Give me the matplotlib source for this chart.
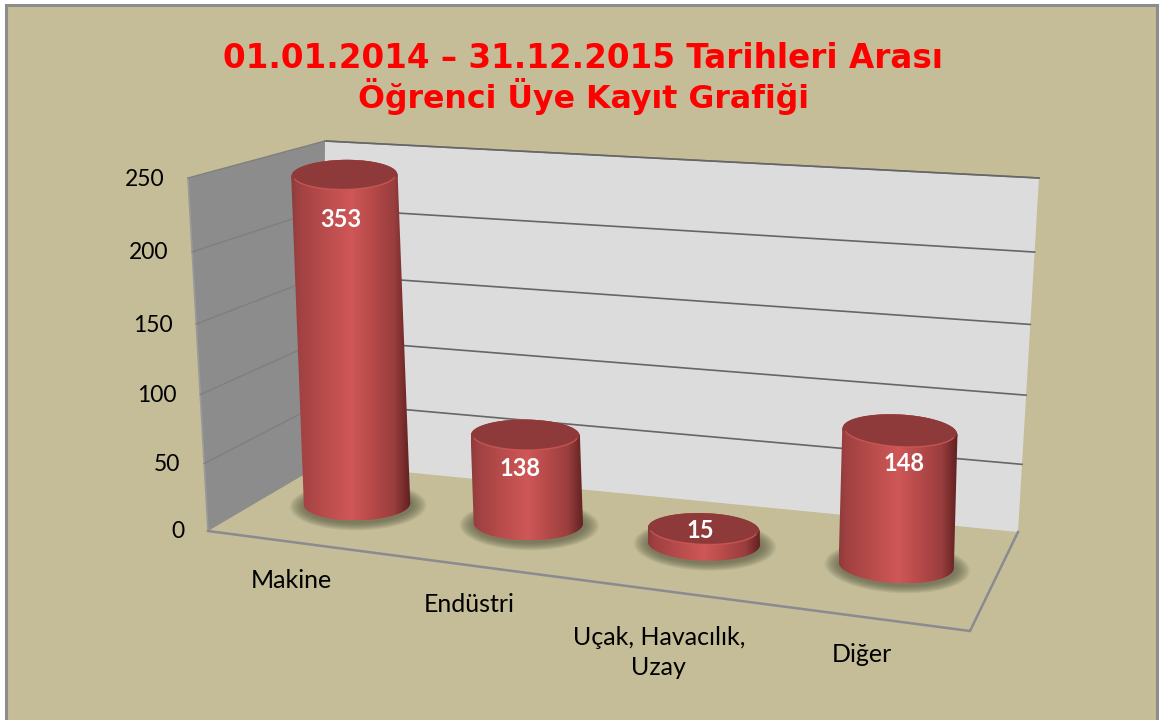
import numpy as np
import matplotlib
matplotlib.use("Agg")
import matplotlib.pyplot as plt
from matplotlib.colors import LinearSegmentedColormap
from matplotlib.patches import Polygon, Rectangle, Ellipse

# ---------- data ----------
title_lines = ["01.01.2014 – 31.12.2015 Tarihleri Arası", "Öğrenci Üye Kayıt Grafiği"]
categories = ["Makine", "Endüstri", "Uçak, Havacılık,\nUzay", "Diğer"]
data_labels = ["353", "138", "15", "148"]
# bar heights as they read against the printed axis (they differ from the printed labels)
bar_heights = [241, 65, 9.5, 94]
y_ticks = [0, 50, 100, 150, 200, 250]
y_max = 250

# ---------- view (screen pixels of the pseudo-3D box) ----------
W, H = 1159, 720
FLOOR = np.array([(322, 464), (1018, 532), (970, 631), (208, 531)], float)   # back-L, back-R, front-R, front-L
CEIL = np.array([(325, 141), (1039, 178), (993, 240), (188, 178)], float)
BAR_U = [0.119, 0.355, 0.597, 0.862]
BAR_V = 0.45
PERSP = 0.945
BG = "#C4BD97"


def bilinear(q, u, v):
    return (q[0] * (1 - u) + q[1] * u) * (1 - v) + (q[3] * (1 - u) + q[2] * u) * v


def project(u, v, h):
    """category position u, depth v, value h -> screen point"""
    s = h / y_max
    t = s * PERSP / (1 + (PERSP - 1) * s)
    return bilinear(FLOOR, u, v) * (1 - t) + bilinear(CEIL, u, v) * t


def ell(c, a, b, deg, t0=0, t1=2 * np.pi, n=80):
    t = np.linspace(t0, t1, n)
    x, y = a * np.cos(t), b * np.sin(t)
    r = np.deg2rad(deg)
    return np.c_[c[0] + x * np.cos(r) - y * np.sin(r), c[1] + x * np.sin(r) + y * np.cos(r)]


fig = plt.figure(figsize=(W / 100, H / 100), dpi=100, facecolor="white")
ax = fig.add_axes([0, 0, 1, 1])
ax.axis("off")

ax.add_patch(Rectangle((6, 4.5), 1151, 730, facecolor=BG, edgecolor="#8C8C8C", lw=2.2, zorder=0))

# walls
back = [project(0, 0, 0), project(1, 0, 0), project(1, 0, y_max), project(0, 0, y_max)]
side = [project(0, 1, 0), project(0, 0, 0), project(0, 0, y_max), project(0, 1, y_max)]
ax.add_patch(Polygon(back, facecolor="#DCDCDC", edgecolor="none", zorder=1))
ax.add_patch(Polygon(side, facecolor="#8C8C8C", edgecolor="none", zorder=1))
ax.plot(*np.array([project(0, 0, y_max), project(1, 0, y_max)]).T, color="#808080", lw=1.1, zorder=2)
ax.plot(*np.array([project(0, 1, y_max), project(0, 1, 0)]).T, color="#9A9A9A", lw=1.2, zorder=2)

# grid
for tick in y_ticks:
    if tick == 0:
        continue
    ax.plot(*np.array([project(0, 0, tick), project(1, 0, tick)]).T, color="#666666", lw=1.2, zorder=2)
    ax.plot(*np.array([project(0, 1, tick), project(0, 0, tick)]).T, color="#7F7F7F", lw=1.0, zorder=2)

# floor front edges
edge = np.array([project(0, 1, 0), project(1, 1, 0), project(1, 0, 0)])
ax.plot(edge[:, 0], edge[:, 1], color="#8A8A90", lw=1.8, zorder=2, solid_joinstyle="miter")

# y tick labels
for tick in y_ticks:
    p = project(0, 1, tick)
    ax.text(p[0] - 24, p[1] + 1, str(tick), ha="right", va="center", fontsize=16.5,
            family="Lato", color="black", zorder=6)

# bars
cmap = LinearSegmentedColormap.from_list("bar", [
    (0.00, "#8E3B3B"), (0.06, "#A04141"), (0.30, "#BC4D4D"), (0.50, "#CF5757"),
    (0.70, "#B34848"), (0.86, "#9A3E3E"), (0.96, "#702828"), (1.00, "#5F2020")])
grad = np.linspace(0, 1, 256).reshape(1, -1)
ASPECT = 0.31
tops = []
for u, value in zip(BAR_U, bar_heights):
    base = project(u, BAR_V, 0)
    top = project(u, BAR_V, value)
    # lean of the cylinders towards the left wall, none on the very flat one
    top[0] -= 2.5 * min(1, value / 40) + 7.5 * (value / y_max) * (1 - u)
    tops.append(top)
    a = 52.5 + 6 * u
    b = a * ASPECT
    tilt = -1.5 + 5.5 * u
    # shadow
    for k in range(10):
        g = 1 - k / 10
        ax.add_patch(Ellipse((base[0] + 1, base[1] + 2), 2 * (a + 15 * g), 2 * (b + 8 * g), angle=tilt,
                             facecolor="#55553F", edgecolor="none", alpha=0.09, zorder=3))
    # side
    lo = ell(base, a, b, tilt, 0, np.pi)
    hi = ell(top, a, b, tilt, np.pi, 2 * np.pi)
    outline = np.vstack([lo, hi])
    x0, x1 = outline[:, 0].min(), outline[:, 0].max()
    for pts, z in ((outline, 4), (ell(top, a, b, tilt), 4.1)):
        im = ax.imshow(grad, cmap=cmap, extent=(x0, x1, outline[:, 1].max(), outline[:, 1].min()),
                       aspect="auto", zorder=z, interpolation="bilinear")
        clip = Polygon(pts, transform=ax.transData, facecolor="none", edgecolor="none")
        ax.add_patch(clip)
        im.set_clip_path(clip)
    # top cap: dark disc that reaches the upper rim, with a light lower bevel
    cap = (top[0], top[1] - b * 0.10)
    ax.add_patch(Polygon(ell(cap, a * 0.99, b * 0.90, tilt), facecolor="#8F3A3A", edgecolor="none", zorder=4.3))
    arc = ell(cap, a * 0.97, b * 0.90, tilt, 0.25, np.pi - 0.25)
    ax.plot(arc[:, 0], arc[:, 1], color="#CF5B57", lw=1.0, alpha=0.8, zorder=4.4, solid_capstyle="round")

# data labels
label_dx = [-4, -5, -3, 4]
label_dy = [43, 32, 0, 31]
for top, label, dx, dy in zip(tops, data_labels, label_dx, label_dy):
    ax.text(top[0] + dx, top[1] + dy, label, ha="center", va="center", color="white",
            fontsize=17, fontweight="bold", family="Lato", zorder=6)

# category labels
cat_dx = [-7, -9.5, -4, -3]
cat_dy = [38, 38.5, 62, 37]
for u, cat, dx, dy in zip(BAR_U, categories, cat_dx, cat_dy):
    p = project(u, 1, 0)
    ax.text(p[0] + dx, p[1] + dy, cat, ha="center", va="center", fontsize=18,
            family="Lato", color="black", linespacing=1.35, zorder=6)

# title
ax.text(583, 59, title_lines[0], ha="center", va="center", color="#FF0000", fontsize=23.5,
        fontweight="bold", family="DejaVu Sans", zorder=6)
ax.text(583, 96, title_lines[1], ha="center", va="center", color="#FF0000", fontsize=22.8,
        fontweight="bold", family="DejaVu Sans", zorder=6)

ax.set_xlim(0, W)
ax.set_ylim(H, 0)
fig.savefig("out.png", dpi=100, facecolor="white")
